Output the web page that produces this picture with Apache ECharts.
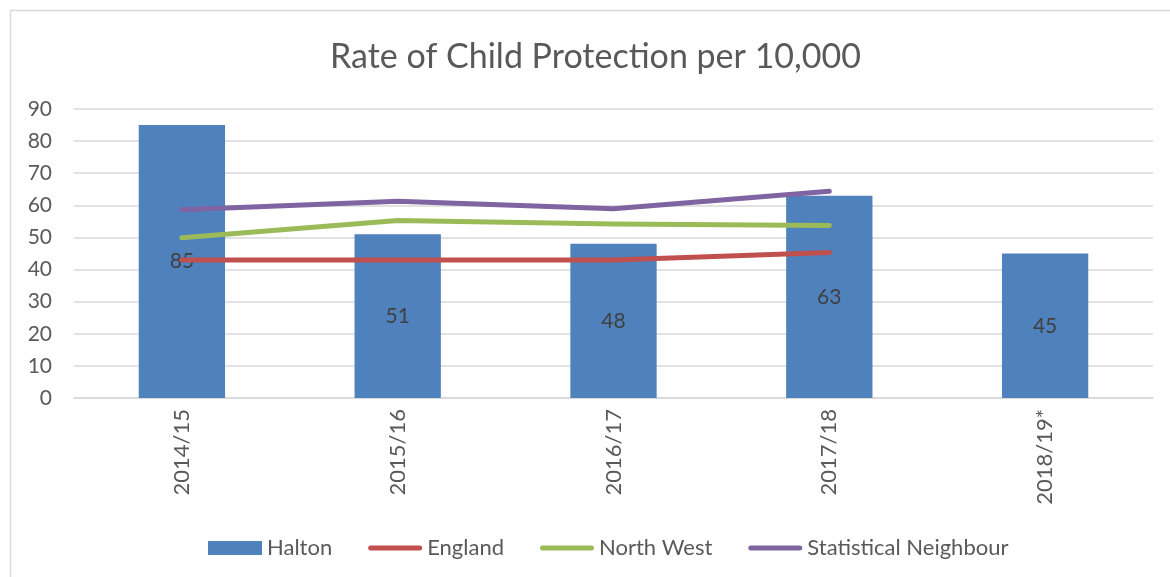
<!DOCTYPE html>
<html>
<head>
<meta charset="utf-8">
<style>
  html, body { margin: 0; padding: 0; background: #ffffff; }
  #chart { width: 1170px; height: 577px; }
</style>
<script src="https://cdn.jsdelivr.net/npm/echarts@6/dist/echarts.min.js"></script>
</head>
<body>
<div id="chart"></div>
<script>
// Reporting years
const years = ['2014/15', '2015/16', '2016/17', '2017/18', '2018/19*'];

// Rate per 10,000 children
const halton = [85, 51, 48, 63, 45];
const england = [43.0, 43.0, 43.0, 45.3, null];
const northWest = [49.9, 55.3, 54.2, 53.7, null];
const statNeighbour = [58.6, 61.3, 58.9, 64.4, null];

// Value axis ticks
const yMin = 0, yMax = 90, yStep = 10;

const FONT = 'Lato, "Open Sans", sans-serif';
const TEXT = '#595959';
const GRID = '#d9d9d9';

// Legend key for line series: a thick rounded bar centred in a 54x14 box
// (the two leading move-to points fix the box so the bar keeps its thickness)
const LINE_KEY = 'path://M0,0M54,14M2.5,4.5L51.5,4.5A2.5,2.5,0,0,1,51.5,9.5L2.5,9.5A2.5,2.5,0,0,1,2.5,4.5Z';

const chart = echarts.init(document.getElementById('chart'), null, { renderer: 'canvas' });

function lineSeries(name, data, color) {
  return {
    name: name,
    type: 'line',
    data: data,
    symbol: 'none',
    showSymbol: false,
    smooth: false,
    connectNulls: false,
    z: 3,
    lineStyle: { color: color, width: 5, cap: 'round', join: 'round' },
    itemStyle: { color: color }
  };
}

chart.setOption({
  animation: false,
  textStyle: { fontFamily: FONT },
  title: {
    text: 'Rate of Child Protection per 10,000',
    left: 325,
    top: 35,
    textStyle: { fontFamily: FONT, fontSize: 34, fontWeight: 'normal', color: TEXT }
  },
  graphic: [{
    type: 'rect',
    shape: { x: 10.5, y: 10.5, width: 1200, height: 600 },
    style: { fill: 'none', stroke: GRID, lineWidth: 1.5 },
    silent: true
  }],
  legend: {
    bottom: 13,
    left: 203,
    itemWidth: 54,
    itemHeight: 14,
    itemGap: 36,
    symbolKeepAspect: true,
    textStyle: { fontFamily: FONT, fontSize: 22, color: TEXT },
    data: [
      { name: 'Halton', icon: 'rect' },
      { name: 'England', icon: LINE_KEY },
      { name: 'North West', icon: LINE_KEY },
      { name: 'Statistical Neighbour', icon: LINE_KEY }
    ]
  },
  grid: { left: 74, right: 17, top: 109, bottom: 179, containLabel: false },
  xAxis: {
    type: 'category',
    data: years,
    axisLine: { show: true, lineStyle: { color: GRID, width: 1.5 } },
    axisTick: { show: false },
    axisLabel: {
      rotate: 90,
      margin: 11,
      fontFamily: FONT,
      fontSize: 22,
      color: TEXT
    }
  },
  yAxis: {
    type: 'value',
    min: yMin,
    max: yMax,
    interval: yStep,
    axisLine: { show: false },
    axisTick: { show: false },
    axisLabel: { fontFamily: FONT, fontSize: 21, color: TEXT, margin: 22 },
    splitLine: { lineStyle: { color: GRID, width: 1.5 } }
  },
  series: [
    {
      name: 'Halton',
      type: 'bar',
      data: halton,
      barWidth: '40%',
      z: 2,
      itemStyle: { color: '#4f81bd' },
      label: {
        show: true,
        position: 'inside',
        fontFamily: FONT,
        fontSize: 21,
        color: '#404040'
      }
    },
    lineSeries('England', england, '#c0504d'),
    lineSeries('North West', northWest, '#9bbb59'),
    lineSeries('Statistical Neighbour', statNeighbour, '#8064a2')
  ]
});
</script>
</body>
</html>
